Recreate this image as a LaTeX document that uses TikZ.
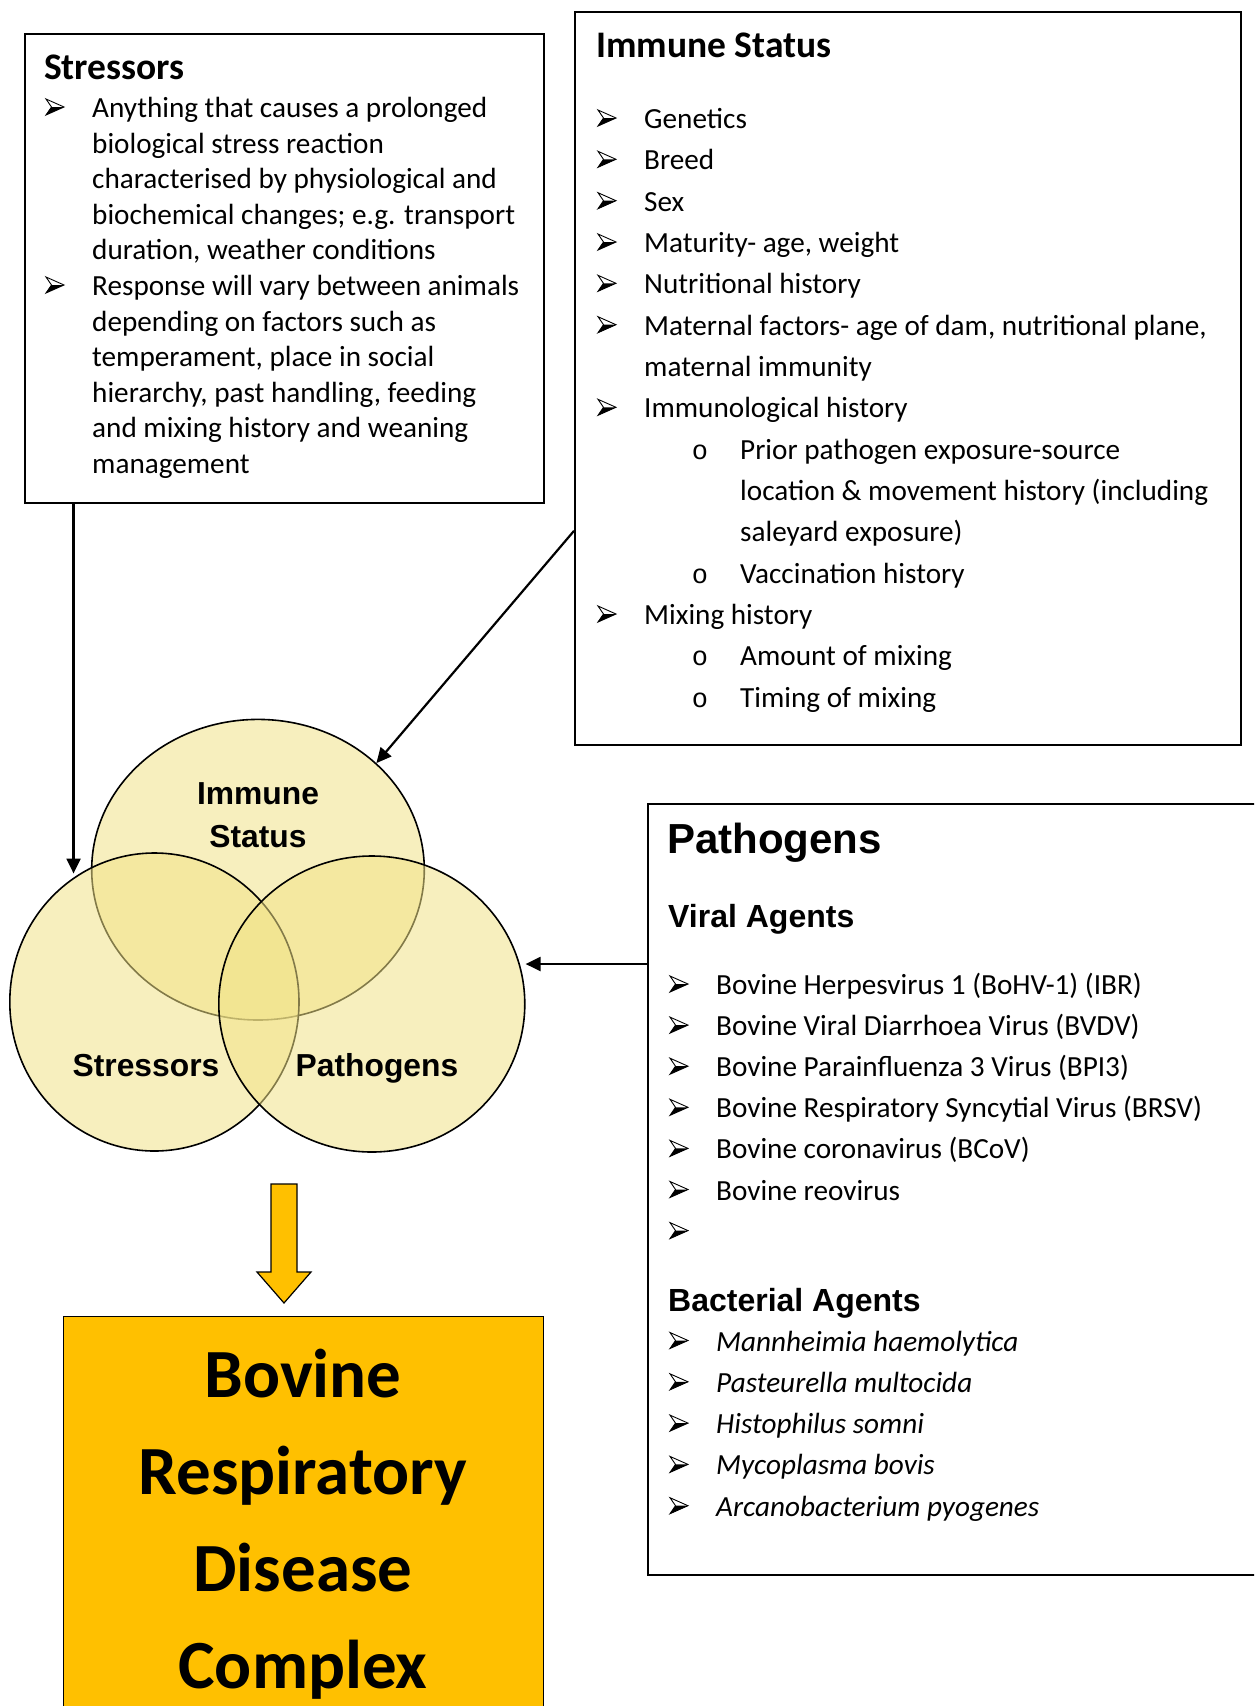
\documentclass[tikz,border=0pt]{standalone}
\usepackage{fontspec}
\setmainfont{Carlito}
\newfontfamily\arialfont{Liberation Sans}
\newfontfamily\courierfont{Liberation Mono}
\usetikzlibrary{arrows.meta,shapes.geometric}
\definecolor{vennfill}{RGB}{242,227,135}
\definecolor{brdcfill}{RGB}{255,192,0}
\tikzset{
  panel/.style={draw, line width=1.7pt, anchor=north west, inner sep=0pt},
  venn/.style={ellipse, draw, line width=1.6pt, fill=vennfill, fill opacity=0.54, inner sep=0pt},
  body/.style={anchor=base west, inner sep=0pt, font=\fontsize{29.2}{35}\selectfont},
  ital/.style={body, font=\fontsize{29.2}{35}\selectfont\itshape},
  boxtitle/.style={anchor=base west, inner sep=0pt, font=\fontsize{37.5}{45}\selectfont\bfseries},
  agent/.style={anchor=base west, inner sep=0pt, font=\arialfont\fontsize{32}{38}\selectfont\bfseries},
  vennlabel/.style={inner sep=0pt, align=center, font=\arialfont\fontsize{31.8}{43}\selectfont\bfseries},
  bigtext/.style={anchor=base, inner sep=0pt, font=\fontsize{69}{80}\selectfont\bfseries},
  subbullet/.style={anchor=base, inner sep=0pt, font=\courierfont\fontsize{27}{32}\selectfont},
  arr/.style={line width=2.2pt, -{Triangle[length=15pt,width=14pt]}},
  pics/arrowbullet/.style={code={
    \draw[line width=0.9pt, line join=miter, fill=white] (0,-8) -- (18,0) -- (0,8) -- (5.5,0) -- cycle;
    \fill (18,0) -- (0,8) -- (5.5,0) -- cycle;
  }}
}
\begin{document}
\begin{tikzpicture}[x=1pt,y=-1pt]
\useasboundingbox (0,0) rectangle (1254,1706);
\clip (0,0) rectangle (1254,1706);
\fill[white] (0,0) rectangle (1254,1706);

% ---------- Stressors panel ----------
\node[panel, minimum width=519pt, minimum height=469pt] (sbox) at (24,33) {};
\node[boxtitle] (stitle) at (44,79) {Stressors};
\pic at (46,107) {arrowbullet};
\node[body] (s0) at (92,117.5) {Anything that causes a prolonged};
\node[body] (s1) at (92,153.1) {biological stress reaction};
\node[body] (s2) at (92,188.7) {characterised by physiological and};
\node[body] (s3) at (92,224.3) {biochemical changes; e.g. transport};
\node[body] (s4) at (92,259.9) {duration, weather conditions};
\pic at (46,285) {arrowbullet};
\node[body] (s5) at (92,295.5) {Response will vary between animals};
\node[body] (s6) at (92,331.1) {depending on factors such as};
\node[body] (s7) at (92,366.7) {temperament, place in social};
\node[body] (s8) at (92,402.3) {hierarchy, past handling, feeding};
\node[body] (s9) at (92,437.9) {and mixing history and weaning};
\node[body] (s10) at (92,473.5) {management};

% ---------- Immune Status panel ----------
\node[panel, minimum width=666pt, minimum height=733pt] (ibox) at (574,11) {};
\node[boxtitle] (ititle) at (596,57.5) {Immune Status};
\foreach \yy in {128.5,169.8,211.2,252.5,293.8,335.2,417.8,624.5}
  \pic at (598,\yy-10.5) {arrowbullet};
\node[body] (i0) at (644,128.5) {Genetics};
\node[body] (i1) at (644,169.8) {Breed};
\node[body] (i2) at (644,211.2) {Sex};
\node[body] (i3) at (644,252.5) {Maturity- age, weight};
\node[body] (i4) at (644,293.8) {Nutritional history};
\node[body] (i5) at (644,335.2) {Maternal factors- age of dam, nutritional plane,};
\node[body] (i6) at (644,376.5) {maternal immunity};
\node[body] (i7) at (644,417.8) {Immunological history};
\node[subbullet] (o1) at (700,459.1) {o};
\node[body] (i8) at (740,459.1) {Prior pathogen exposure-source};
\node[body] (i9) at (740,500.5) {location \& movement history (including};
\node[body] (i10) at (740,541.8) {saleyard exposure)};
\node[subbullet] (o2) at (700,583.1) {o};
\node[body] (i11) at (740,583.1) {Vaccination history};
\node[body] (i12) at (644,624.5) {Mixing history};
\node[subbullet] (o3) at (700,665.8) {o};
\node[body] (i13) at (740,665.8) {Amount of mixing};
\node[subbullet] (o4) at (700,707.1) {o};
\node[body] (i14) at (740,707.1) {Timing of mixing};

% ---------- Pathogens panel ----------
\node[panel, minimum width=700pt, minimum height=771pt] (pbox) at (647,803) {};
\node[anchor=base west, inner sep=0pt, font=\arialfont\fontsize{42}{50}\selectfont\bfseries] (ptitle) at (667,853.5) {Pathogens};
\node[agent] (viral) at (668,927.5) {Viral Agents};
\foreach \yy in {994.5,1035.6,1076.7,1117.8,1158.9,1200,1241.1,1351,1392.3,1433.6,1474.9,1516.2}
  \pic at (670,\yy-10.5) {arrowbullet};
\node[body] (v0) at (716,994.5) {Bovine Herpesvirus 1 (BoHV-1) (IBR)};
\node[body] (v1) at (716,1035.6) {Bovine Viral Diarrhoea Virus (BVDV)};
\node[body] (v2) at (716,1076.7) {Bovine Parainfluenza 3 Virus (BPI3)};
\node[body] (v3) at (716,1117.8) {Bovine Respiratory Syncytial Virus (BRSV)};
\node[body] (v4) at (716,1158.9) {Bovine coronavirus (BCoV)};
\node[body] (v5) at (716,1200) {Bovine reovirus};
\node[agent] (bact) at (668,1311) {Bacterial Agents};
\node[ital] (b0) at (716,1351) {Mannheimia haemolytica};
\node[ital] (b1) at (716,1392.3) {Pasteurella multocida};
\node[ital] (b2) at (716,1433.6) {Histophilus somni};
\node[ital] (b3) at (716,1474.9) {Mycoplasma bovis};
\node[ital] (b4) at (716,1516.2) {Arcanobacterium pyogenes};

% ---------- Venn diagram ----------
\node[venn, minimum width=332.6pt, minimum height=300.6pt] (ic) at (258,869.7) {};
\node[venn, minimum width=289.2pt, minimum height=298pt] (sc) at (154.4,1002) {};
\node[venn, minimum width=306pt, minimum height=296pt] (pc) at (371.8,1004) {};
\node[vennlabel] (iclabel) at (258,815) {Immune\\Status};
\node[vennlabel] (sclabel) at (146,1066) {Stressors};
\node[vennlabel] (pclabel) at (377,1068) {Pathogens};

% ---------- Connectors ----------
\draw[arr] (sbox.south -| sc.123) -- ([yshift=4pt]sc.123);
\coordinate (iout) at ([yshift=-152.5pt]ibox.west);
\draw[arr] (iout) -- (ic.42);
\coordinate (pout) at ([yshift=-161pt]pbox.north west);
\draw[arr] (pout) -- (pout -| pc.east);

% ---------- Outcome ----------
\draw[line width=1.2pt, fill=brdcfill, line join=miter]
  (271,1184) -- (297,1184) -- (297,1272) -- (311,1272) -- (284,1303)
  -- (257,1272) -- (271,1272) -- cycle;
\node[panel, fill=brdcfill, line width=1.4pt, minimum width=480pt, minimum height=500pt] (brdc) at (63,1316) {};
\node[bigtext] (t1) at (303,1397.6) {Bovine};
\node[bigtext] (t2) at (303,1494.4) {Respiratory};
\node[bigtext] (t3) at (303,1591.2) {Disease};
\node[bigtext] (t4) at (303,1688) {Complex};
\end{tikzpicture}
\end{document}
